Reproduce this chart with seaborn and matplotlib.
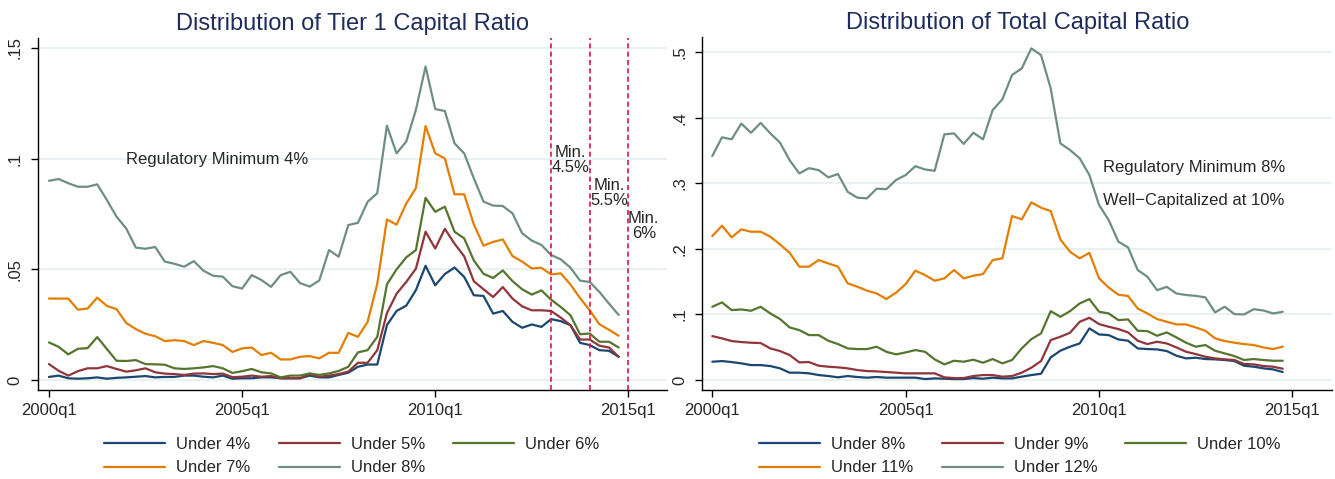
import matplotlib
matplotlib.use("Agg")
import matplotlib.pyplot as plt
import seaborn as sns
import pandas as pd
import numpy as np

# quarters 2000q1 .. 2014q4 (index 0..59)
TICK_POS = [0, 20, 40, 60]
TICK_LABELS = ["2000q1", "2005q1", "2010q1", "2015q1"]

# Tier 1 capital ratio: share of banks below each threshold
T1_UNDER_4 = [0.0014, 0.0020, 0.0008, 0.0006, 0.0008, 0.0012, 0.0006, 0.0010, 0.0012, 0.0015,
              0.0018, 0.0012, 0.0014, 0.0014, 0.0020, 0.0020, 0.0015, 0.0012, 0.0020, 0.0006,
              0.0008, 0.0008, 0.0012, 0.0012, 0.0008, 0.0008, 0.0008, 0.0020, 0.0012, 0.0012,
              0.0023, 0.0033, 0.0060, 0.0070, 0.0070, 0.0248, 0.0312, 0.0336, 0.0406, 0.0516,
              0.0428, 0.0479, 0.0508, 0.0466, 0.0383, 0.0380, 0.0300, 0.0312, 0.0263, 0.0236,
              0.0251, 0.0240, 0.0275, 0.0266, 0.0248, 0.0168, 0.0158, 0.0135, 0.0132, 0.0105]
T1_UNDER_5 = [0.0072, 0.0042, 0.0020, 0.0040, 0.0053, 0.0053, 0.0063, 0.0050, 0.0038, 0.0044,
              0.0053, 0.0035, 0.0029, 0.0027, 0.0023, 0.0029, 0.0030, 0.0027, 0.0029, 0.0013,
              0.0015, 0.0020, 0.0015, 0.0018, 0.0008, 0.0008, 0.0008, 0.0027, 0.0015, 0.0020,
              0.0027, 0.0038, 0.0078, 0.0078, 0.0135, 0.0302, 0.0390, 0.0443, 0.0503, 0.0670,
              0.0594, 0.0683, 0.0616, 0.0559, 0.0446, 0.0410, 0.0375, 0.0420, 0.0368, 0.0333,
              0.0315, 0.0315, 0.0312, 0.0282, 0.0248, 0.0183, 0.0183, 0.0155, 0.0147, 0.0105]
T1_UNDER_6 = [0.0170, 0.0150, 0.0116, 0.0141, 0.0144, 0.0194, 0.0140, 0.0087, 0.0086, 0.0090,
              0.0072, 0.0071, 0.0069, 0.0053, 0.0050, 0.0053, 0.0057, 0.0063, 0.0053, 0.0032,
              0.0040, 0.0050, 0.0035, 0.0030, 0.0012, 0.0020, 0.0020, 0.0030, 0.0023, 0.0030,
              0.0041, 0.0060, 0.0125, 0.0135, 0.0195, 0.0432, 0.0500, 0.0554, 0.0587, 0.0823,
              0.0760, 0.0783, 0.0670, 0.0640, 0.0540, 0.0480, 0.0461, 0.0495, 0.0447, 0.0410,
              0.0386, 0.0405, 0.0363, 0.0330, 0.0293, 0.0207, 0.0210, 0.0173, 0.0173, 0.0147]
T1_UNDER_7 = [0.0368, 0.0368, 0.0368, 0.0318, 0.0323, 0.0372, 0.0335, 0.0320, 0.0258, 0.0230,
              0.0209, 0.0198, 0.0176, 0.0180, 0.0176, 0.0158, 0.0176, 0.0168, 0.0158, 0.0127,
              0.0143, 0.0147, 0.0113, 0.0123, 0.0093, 0.0093, 0.0105, 0.0108, 0.0098, 0.0123,
              0.0123, 0.0213, 0.0195, 0.0263, 0.0435, 0.0725, 0.0702, 0.0797, 0.0867, 0.1147,
              0.1024, 0.1001, 0.0839, 0.0839, 0.0703, 0.0607, 0.0624, 0.0635, 0.0560, 0.0535,
              0.0504, 0.0507, 0.0477, 0.0482, 0.0432, 0.0370, 0.0315, 0.0252, 0.0227, 0.0200]
T1_UNDER_8 = [0.0900, 0.0908, 0.0889, 0.0873, 0.0873, 0.0884, 0.0813, 0.0738, 0.0685, 0.0598,
              0.0593, 0.0601, 0.0535, 0.0525, 0.0512, 0.0537, 0.0494, 0.0471, 0.0467, 0.0424,
              0.0413, 0.0474, 0.0452, 0.0421, 0.0474, 0.0489, 0.0438, 0.0422, 0.0450, 0.0587,
              0.0557, 0.0700, 0.0710, 0.0805, 0.0844, 0.1149, 0.1024, 0.1077, 0.1220, 0.1416,
              0.1224, 0.1215, 0.1069, 0.1024, 0.0911, 0.0806, 0.0788, 0.0786, 0.0753, 0.0663,
              0.0630, 0.0610, 0.0565, 0.0545, 0.0508, 0.0449, 0.0443, 0.0398, 0.0345, 0.0294]

# Total capital ratio
TC_UNDER_8 = [0.0279, 0.0289, 0.0274, 0.0254, 0.0228, 0.0228, 0.0213, 0.0178, 0.0112, 0.0112,
              0.0102, 0.0076, 0.0061, 0.0041, 0.0061, 0.0046, 0.0036, 0.0046, 0.0036, 0.0036,
              0.0036, 0.0036, 0.0015, 0.0025, 0.0020, 0.0015, 0.0015, 0.0030, 0.0020, 0.0036,
              0.0025, 0.0025, 0.0051, 0.0076, 0.0096, 0.0345, 0.0447, 0.0508, 0.0558, 0.0787,
              0.0695, 0.0685, 0.0619, 0.0599, 0.0482, 0.0472, 0.0467, 0.0442, 0.0371, 0.0330,
              0.0340, 0.0320, 0.0315, 0.0305, 0.0289, 0.0218, 0.0203, 0.0178, 0.0162, 0.0122]
TC_UNDER_9 = [0.0670, 0.0635, 0.0594, 0.0579, 0.0569, 0.0563, 0.0482, 0.0442, 0.0381, 0.0269,
              0.0274, 0.0218, 0.0203, 0.0193, 0.0178, 0.0152, 0.0137, 0.0132, 0.0122, 0.0112,
              0.0102, 0.0102, 0.0102, 0.0102, 0.0041, 0.0030, 0.0030, 0.0061, 0.0076, 0.0076,
              0.0051, 0.0061, 0.0112, 0.0188, 0.0289, 0.0609, 0.0660, 0.0721, 0.0888, 0.0949,
              0.0853, 0.0812, 0.0777, 0.0726, 0.0599, 0.0548, 0.0584, 0.0558, 0.0497, 0.0431,
              0.0396, 0.0355, 0.0330, 0.0315, 0.0305, 0.0244, 0.0239, 0.0213, 0.0203, 0.0173]
TC_UNDER_10 = [0.1117, 0.1183, 0.1066, 0.1076, 0.1056, 0.1117, 0.1015, 0.0930, 0.0802, 0.0761,
               0.0685, 0.0685, 0.0599, 0.0548, 0.0482, 0.0472, 0.0472, 0.0508, 0.0431, 0.0391,
               0.0421, 0.0457, 0.0431, 0.0315, 0.0239, 0.0294, 0.0279, 0.0310, 0.0264, 0.0320,
               0.0254, 0.0305, 0.0482, 0.0624, 0.0711, 0.1050, 0.0964, 0.1050, 0.1168, 0.1234,
               0.1041, 0.1015, 0.0914, 0.0924, 0.0751, 0.0746, 0.0675, 0.0726, 0.0650, 0.0569,
               0.0508, 0.0533, 0.0447, 0.0406, 0.0365, 0.0305, 0.0320, 0.0305, 0.0294, 0.0294]
TC_UNDER_11 = [0.2195, 0.2353, 0.2175, 0.2297, 0.2261, 0.2261, 0.2185, 0.2068, 0.1940, 0.1728,
               0.1728, 0.1829, 0.1778, 0.1728, 0.1474, 0.1423, 0.1362, 0.1321, 0.1235, 0.1331,
               0.1463, 0.1667, 0.1600, 0.1514, 0.1550, 0.1677, 0.1550, 0.1590, 0.1616, 0.1829,
               0.1855, 0.2500, 0.2450, 0.2708, 0.2627, 0.2576, 0.2144, 0.1956, 0.1855, 0.1940,
               0.1550, 0.1410, 0.1300, 0.1282, 0.1090, 0.1015, 0.0930, 0.0888, 0.0848, 0.0848,
               0.0802, 0.0751, 0.0635, 0.0594, 0.0569, 0.0548, 0.0533, 0.0497, 0.0472, 0.0508]
TC_UNDER_12 = [0.3415, 0.3700, 0.3670, 0.3910, 0.3770, 0.3920, 0.3760, 0.3620, 0.3350, 0.3150,
               0.3230, 0.3200, 0.3090, 0.3140, 0.2870, 0.2780, 0.2770, 0.2917, 0.2910, 0.3050,
               0.3125, 0.3260, 0.3210, 0.3190, 0.3745, 0.3760, 0.3600, 0.3770, 0.3670, 0.4116,
               0.4280, 0.4650, 0.4750, 0.5056, 0.4954, 0.4446, 0.3608, 0.3506, 0.3380, 0.3125,
               0.2668, 0.2439, 0.2109, 0.2022, 0.1677, 0.1575, 0.1370, 0.1420, 0.1320, 0.1296,
               0.1283, 0.1260, 0.1031, 0.1117, 0.1005, 0.1000, 0.1080, 0.1060, 0.1015, 0.1040]

T1_LABELS = ["Under 4%", "Under 5%", "Under 6%", "Under 7%", "Under 8%"]
TC_LABELS = ["Under 8%", "Under 9%", "Under 10%", "Under 11%", "Under 12%"]

# Stata s2color palette
COLORS = ["#1a476f", "#90353b", "#55752f", "#e37e00", "#6e8e84"]
TITLE_COLOR = "#1f2d5c"
GRID_COLOR = "#e6eff1"
REF_COLOR = "#d2173f"

sns.set_theme(style="white")
plt.rcParams["font.family"] = ["Liberation Sans", "DejaVu Sans"]


def long_frame(series, labels):
    rows = []
    for vals, lab in zip(series, labels):
        rows.append(pd.DataFrame({"q": np.arange(len(vals)), "value": vals, "series": lab}))
    return pd.concat(rows, ignore_index=True)


def style_axis(ax, yticks, yticklabels, xlim, ylim, title):
    ax.set_xlim(*xlim)
    ax.set_ylim(*ylim)
    ax.set_xticks(TICK_POS)
    ax.set_xticklabels(TICK_LABELS, fontsize=12)
    ax.set_yticks(yticks)
    ax.set_yticklabels(yticklabels, fontsize=12, rotation=90, va="center")
    ax.tick_params(axis="both", direction="out", length=5, width=1, color="black",
                   bottom=True, left=True, pad=4)
    ax.tick_params(axis="y", pad=6)
    for s in ["top", "right"]:
        ax.spines[s].set_visible(False)
    for s in ["left", "bottom"]:
        ax.spines[s].set_color("black")
        ax.spines[s].set_linewidth(1)
    ax.grid(False)
    for y in yticks:
        ax.axhline(y, color=GRID_COLOR, lw=1.2, zorder=0)
    ax.set_xlabel("")
    ax.set_ylabel("")
    ax.set_facecolor("white")
    ax.set_title(title, fontsize=17, color=TITLE_COLOR, pad=6)


def add_legend(ax, cx):
    handles, labels = ax.get_legend_handles_labels()
    order = [0, 3, 1, 4, 2]
    ax.legend([handles[i] for i in order], [labels[i] for i in order], ncol=3,
              loc="center", bbox_to_anchor=(cx, 0.048), bbox_transform=ax.figure.transFigure,
              frameon=False, fontsize=12, handlelength=3.66, handletextpad=0.66,
              columnspacing=1.7, labelspacing=0.53, borderpad=0, borderaxespad=0)


fig = plt.figure(figsize=(13.35, 4.79), dpi=100)
ax1 = fig.add_axes([0.0282, 0.1858, 0.4714, 0.7349])
ax2 = fig.add_axes([0.5261, 0.1858, 0.4717, 0.7370])

df1 = long_frame([T1_UNDER_4, T1_UNDER_5, T1_UNDER_6, T1_UNDER_7, T1_UNDER_8], T1_LABELS)
sns.lineplot(data=df1, x="q", y="value", hue="series", palette=COLORS, linewidth=1.6, ax=ax1)
style_axis(ax1, [0, 0.05, 0.1, 0.15], ["0", ".05", ".1", ".15"],
           (-1.17, 64.0), (-0.0045, 0.1545), "Distribution of Tier 1 Capital Ratio")
for q in [52, 56, 60]:
    ax1.axvline(q, color=REF_COLOR, lw=1.2, ls=(0, (3, 2)), zorder=3)
ax1.text(8, 0.0998, "Regulatory Minimum 4%", fontsize=12, ha="left", va="center")
ax1.text(54, 0.0994, "Min.\n4.5%", fontsize=12, ha="center", va="center", linespacing=1.0)
ax1.text(58, 0.0845, "Min.\n5.5%", fontsize=12, ha="center", va="center", linespacing=1.0)
ax1.text(61.6, 0.0695, "Min.\n6%", fontsize=12, ha="center", va="center", linespacing=1.0)
add_legend(ax1, 0.2637)

df2 = long_frame([TC_UNDER_8, TC_UNDER_9, TC_UNDER_10, TC_UNDER_11, TC_UNDER_12], TC_LABELS)
sns.lineplot(data=df2, x="q", y="value", hue="series", palette=COLORS, linewidth=1.6, ax=ax2)
style_axis(ax2, [0, 0.1, 0.2, 0.3, 0.4, 0.5], ["0", ".1", ".2", ".3", ".4", ".5"],
           (-1.03, 64.1), (-0.0152, 0.523), "Distribution of Total Capital Ratio")
ax2.text(40.4, 0.3247, "Regulatory Minimum 8%", fontsize=12, ha="left", va="center")
ax2.text(40.4, 0.273, "Well\u2212Capitalized at 10%", fontsize=12, ha="left", va="center")
add_legend(ax2, 0.7640)

fig.savefig("out.png", dpi=100, facecolor="white")
